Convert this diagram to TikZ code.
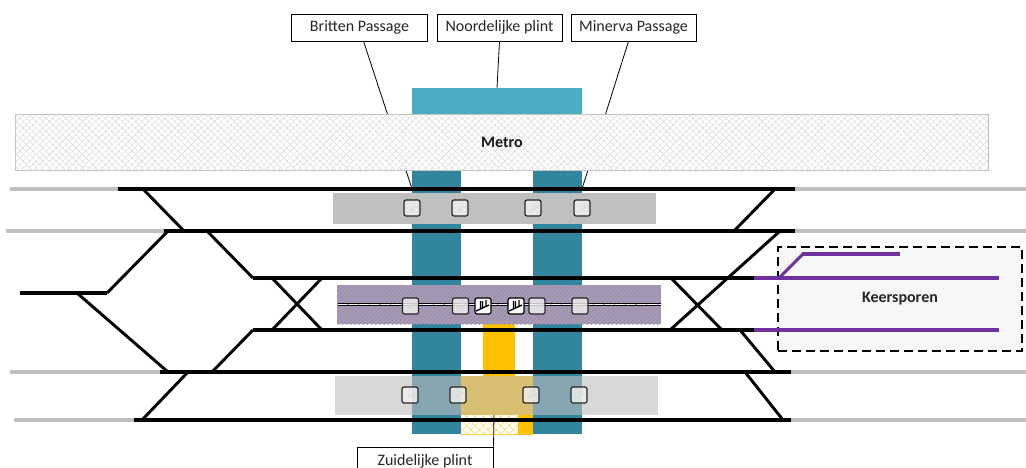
\documentclass[tikz,border=0pt]{standalone}
\usepackage{fontspec}
\setmainfont{Carlito}
\usetikzlibrary{patterns.meta,calc}
\definecolor{teallight}{HTML}{4BACC6}
\definecolor{tealdark}{HTML}{31859C}
\definecolor{railgrey}{HTML}{BFBFBF}
\definecolor{railpurple}{HTML}{7030A0}
\definecolor{plintgold}{HTML}{FFC000}
\definecolor{platpurple}{HTML}{A99BB8}
\tikzset{
  labelbox/.style={draw=black,line width=0.75pt,fill=white,inner sep=0pt,font=\fontsize{12}{14}\selectfont,text=black!85},
  leader/.style={draw=black,line width=0.6pt},
  band/.style={draw=none,inner sep=0pt},
  blacktrack/.style={draw=black,line width=3pt},
  greytrack/.style={draw=railgrey,line width=3pt},
  purpletrack/.style={draw=railpurple,line width=3pt},
  diag/.style={draw=black,line width=2.2pt},
  sqbox/.style={draw=black!85,line width=0.9pt,rounded corners=1.5pt,fill=white!95!black,fill opacity=0.8},
  pics/stairsq/.style={code={
    \path[sqbox] (-8,-8) rectangle (8,8);
    \draw[white!70!gray,line width=0.6pt] (-3,3) -- (6,-2) (0,1) -- (0,-5) (3,-1) -- (3,-6);
  }},
  pics/stairdark/.style={code={
    \path[draw=black,line width=0.9pt,rounded corners=1.5pt,fill=white] (-8,-8) rectangle (8,8);
    \draw[black,line width=1pt] (-7,5) -- (6,-1) (-2.5,2) -- (-2.5,-5) (-0.5,1) -- (-0.5,-5) (3,0) -- (3,-6);
  }}
}
\newcommand{\lowered}[1]{\raisebox{-0.7pt}{#1}}
\begin{document}
\begin{tikzpicture}[x=0.75pt,y=-0.75pt]
\useasboundingbox (0,0) rectangle (1026,468);
\clip (0,0) rectangle (1026,468);
\fill[white] (0,0) rectangle (1026,468);

% label boxes
\node[labelbox,minimum width=136.5*0.75pt,minimum height=27*0.75pt] (britten) at (359.5,27.5) {\lowered{Britten Passage}};
\node[labelbox,minimum width=125*0.75pt,minimum height=27*0.75pt] (noord) at (499.5,27.5) {\lowered{Noordelijke plint}};
\node[labelbox,minimum width=125*0.75pt,minimum height=27*0.75pt] (minerva) at (633.5,27.5) {\lowered{Minerva Passage}};

% passages and plinth
\node[band,fill=teallight,minimum width=170*0.75pt,minimum height=26*0.75pt] (plintN) at (497,101) {};
\node[band,fill=tealdark,minimum width=49*0.75pt,minimum height=264*0.75pt] (passW) at (436.5,302) {};
\node[band,fill=tealdark,minimum width=49*0.75pt,minimum height=264*0.75pt] (passE) at (557.5,302) {};

% leaders behind the metro
\draw[leader] (noord.south) -- (plintN.north);
\draw[leader] ($(britten.south west)!0.53!(britten.south east)$) -- (passW.north west |- 0,188);
\draw[leader] ($(minerva.south west)!0.46!(minerva.south east)$) -- (passE.north east |- 0,188);

% south plinth
\fill[plintgold] (483,324) rectangle (515,376);
\fill[plintgold] (461,376) rectangle (533,415);
\fill[white] (461,415) rectangle (518,434);
\fill[pattern={Lines[angle=45,distance=4.5pt,line width=0.5pt]},pattern color=plintgold!55] (461,415) rectangle (518,434);
\fill[pattern={Lines[angle=-45,distance=4.5pt,line width=0.5pt]},pattern color=plintgold!55] (461,415) rectangle (518,434);
\draw[plintgold!70,line width=0.5pt] (461,434) -- (518,434);
\fill[plintgold] (518,415) rectangle (533,435);

% platforms
\node[band,fill=railgrey,minimum width=323*0.75pt,minimum height=31*0.75pt] (platA) at (494.5,208.5) {};
\fill[fill=railgrey,fill opacity=0.6] (335,376) rectangle (658,415);
\fill[fill=platpurple] (337,285) rectangle (661,324);
\fill[pattern={Lines[angle=45,distance=2.2pt,line width=0.5pt]},pattern color=platpurple!90!black] (337,285) rectangle (661,324);
\draw[black,line width=0.75pt] (338,303.2) -- (661,303.2);
\draw[black,line width=0.75pt] (338,305.2) -- (661,305.2);
\draw[white,line width=1pt,dash pattern=on 7pt off 1pt] (338,304.2) -- (661,304.2);

% tracks
\draw[greytrack] (10,189) -- (118,189);
\draw[greytrack] (795,189) -- (1026,189);
\draw[greytrack] (6,231) -- (164,231);
\draw[greytrack] (795,231) -- (1026,231);
\draw[greytrack] (10,372) -- (160,372);
\draw[greytrack] (791,372) -- (1026,372);
\draw[greytrack] (14,420) -- (136,420);
\draw[greytrack] (791,420) -- (1026,420);

% diagonals
\draw[diag] (143,189) -- (184,231);
\draw[diag] (168,231) -- (107,293);
\draw[diag] (207,231) -- (253,278);
\draw[diag] (272,278) -- (322,330);
\draw[diag] (322,278) -- (272,330);
\draw[diag] (77,293) -- (168,372);
\draw[diag] (253,330) -- (212,372);
\draw[diag] (188,372) -- (142,420);
\draw[diag] (775,189) -- (734,231);
\draw[diag] (780,231) -- (670,330);
\draw[diag] (671,278) -- (722,330);
\draw[diag] (740,330) -- (775,372);
\draw[diag] (745,372) -- (783,420);

\draw[blacktrack] (118,189) -- (795,189);
\draw[blacktrack] (164,231) -- (795,231);
\draw[blacktrack] (253,278) -- (754,278);
\draw[blacktrack] (253,330) -- (754,330);
\draw[blacktrack] (160,372) -- (791,372);
\draw[blacktrack] (134,420) -- (791,420);
\draw[blacktrack] (20,293) -- (107,293);

% keersporen
\node[draw=black,line width=0.9pt,dash pattern=on 7pt off 3.5pt,fill=black!3,inner sep=0pt,minimum width=244*0.75pt,minimum height=104*0.75pt,font=\bfseries\fontsize{12}{14}\selectfont,text=black!85] (keer) at (900,299) {Keersporen};
\draw[purpletrack] (754,278) -- (999,278);
\draw[purpletrack] (754,330) -- (999,330);
\draw[draw=railpurple,line width=2.2pt] (780,277) -- (803,254);
\draw[purpletrack] (802,253.5) -- (900,253.5);

% metro
\node[band,draw=black!25,line width=0.6pt,fill=white,minimum width=973*0.75pt,minimum height=56*0.75pt] (metro) at (501.5,142) {};
\fill[pattern={Lines[angle=45,distance=3.5pt,line width=0.3pt]},pattern color=black!16] (15,114) rectangle (988,170);
\fill[pattern={Lines[angle=-45,distance=3.5pt,line width=0.3pt]},pattern color=black!16] (15,114) rectangle (988,170);
\node[font=\bfseries\fontsize{12}{14}\selectfont,text=black!90,inner sep=0pt] (metrolabel) at (502,142) {Metro};

% squares
\foreach \px in {412,460,533,582} \pic at (\px,208) {stairsq};
\foreach \px in {410.5,460.5,537,580} \pic at (\px,306) {stairsq};
\foreach \px in {483,516} \pic at (\px,306) {stairdark};
\foreach \px in {410,458,531,579} \pic at (\px,395) {stairsq};

% south label
\node[labelbox,minimum width=136*0.75pt,minimum height=30*0.75pt] (zuid) at (425,462) {};
\node[font=\fontsize{12}{14}\selectfont,text=black!85,inner sep=0pt] (zuidtext) at (425,461) {Zuidelijke plint};
\coordinate (zuidend) at (494,415);
\draw[leader] (zuid.north east) -- (zuidend);
\end{tikzpicture}
\end{document}
